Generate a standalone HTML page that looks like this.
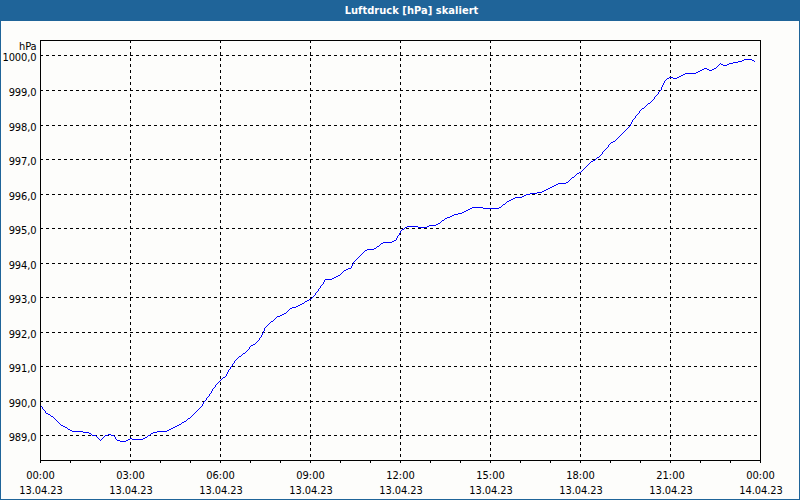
<!DOCTYPE html><html><head><meta charset="utf-8"><title>Luftdruck [hPa] skaliert</title><style>
html,body{margin:0;padding:0;width:800px;height:500px;overflow:hidden;background:#fdfdfb;}
svg{display:block;position:absolute;left:0;top:0;}
text{font-family:"DejaVu Sans Condensed","Liberation Sans",sans-serif;font-size:11px;fill:#000;}
.t{font-weight:bold;fill:#fff;letter-spacing:0.04px;}
.yl text{letter-spacing:-0.1px;}
.dl{letter-spacing:-0.1px;}
</style></head><body>
<svg width="800" height="500" viewBox="0 0 800 500">
<rect x="0" y="0" width="800" height="500" fill="#1f6499"/>
<rect x="1" y="21" width="798" height="478" fill="#fdfdfb"/>
<text class="t" x="411.5" y="14" text-anchor="middle">Luftdruck [hPa] skaliert</text>
<g stroke="#000" stroke-width="1" shape-rendering="crispEdges" fill="none">
<line x1="40" y1="55.5" x2="760" y2="55.5" stroke-dasharray="3 3"/>
<line x1="40" y1="90.5" x2="760" y2="90.5" stroke-dasharray="3 3"/>
<line x1="40" y1="125.5" x2="760" y2="125.5" stroke-dasharray="3 3"/>
<line x1="40" y1="159.5" x2="760" y2="159.5" stroke-dasharray="3 3"/>
<line x1="40" y1="194.5" x2="760" y2="194.5" stroke-dasharray="3 3"/>
<line x1="40" y1="228.5" x2="760" y2="228.5" stroke-dasharray="3 3"/>
<line x1="40" y1="263.5" x2="760" y2="263.5" stroke-dasharray="3 3"/>
<line x1="40" y1="297.5" x2="760" y2="297.5" stroke-dasharray="3 3"/>
<line x1="40" y1="332.5" x2="760" y2="332.5" stroke-dasharray="3 3"/>
<line x1="40" y1="366.5" x2="760" y2="366.5" stroke-dasharray="3 3"/>
<line x1="40" y1="401.5" x2="760" y2="401.5" stroke-dasharray="3 3"/>
<line x1="40" y1="435.5" x2="760" y2="435.5" stroke-dasharray="3 3"/>
<line x1="130.5" y1="40" x2="130.5" y2="460" stroke-dasharray="3 3"/>
<line x1="220.5" y1="40" x2="220.5" y2="460" stroke-dasharray="3 3"/>
<line x1="310.5" y1="40" x2="310.5" y2="460" stroke-dasharray="3 3"/>
<line x1="400.5" y1="40" x2="400.5" y2="460" stroke-dasharray="3 3"/>
<line x1="490.5" y1="40" x2="490.5" y2="460" stroke-dasharray="3 3"/>
<line x1="580.5" y1="40" x2="580.5" y2="460" stroke-dasharray="3 3"/>
<line x1="670.5" y1="40" x2="670.5" y2="460" stroke-dasharray="3 3"/>
<rect x="40.5" y="40.5" width="720" height="420"/>
<line x1="40.5" y1="460" x2="40.5" y2="463"/>
<line x1="70.5" y1="460" x2="70.5" y2="463"/>
<line x1="100.5" y1="460" x2="100.5" y2="463"/>
<line x1="130.5" y1="460" x2="130.5" y2="463"/>
<line x1="160.5" y1="460" x2="160.5" y2="463"/>
<line x1="190.5" y1="460" x2="190.5" y2="463"/>
<line x1="220.5" y1="460" x2="220.5" y2="463"/>
<line x1="250.5" y1="460" x2="250.5" y2="463"/>
<line x1="280.5" y1="460" x2="280.5" y2="463"/>
<line x1="310.5" y1="460" x2="310.5" y2="463"/>
<line x1="340.5" y1="460" x2="340.5" y2="463"/>
<line x1="370.5" y1="460" x2="370.5" y2="463"/>
<line x1="400.5" y1="460" x2="400.5" y2="463"/>
<line x1="430.5" y1="460" x2="430.5" y2="463"/>
<line x1="460.5" y1="460" x2="460.5" y2="463"/>
<line x1="490.5" y1="460" x2="490.5" y2="463"/>
<line x1="520.5" y1="460" x2="520.5" y2="463"/>
<line x1="550.5" y1="460" x2="550.5" y2="463"/>
<line x1="580.5" y1="460" x2="580.5" y2="463"/>
<line x1="610.5" y1="460" x2="610.5" y2="463"/>
<line x1="640.5" y1="460" x2="640.5" y2="463"/>
<line x1="670.5" y1="460" x2="670.5" y2="463"/>
<line x1="700.5" y1="460" x2="700.5" y2="463"/>
<line x1="730.5" y1="460" x2="730.5" y2="463"/>
<line x1="760.5" y1="460" x2="760.5" y2="463"/>
</g>
<g text-anchor="end" class="yl">
<text x="36.5" y="50">hPa</text>
<text x="36.5" y="61">1000,0</text>
<text x="36.5" y="96">999,0</text>
<text x="36.5" y="131">998,0</text>
<text x="36.5" y="165">997,0</text>
<text x="36.5" y="200">996,0</text>
<text x="36.5" y="234">995,0</text>
<text x="36.5" y="269">994,0</text>
<text x="36.5" y="303">993,0</text>
<text x="36.5" y="338">992,0</text>
<text x="36.5" y="372">991,0</text>
<text x="36.5" y="407">990,0</text>
<text x="36.5" y="441">989,0</text>
</g><g text-anchor="middle">
<text x="40.5" y="479">00:00</text>
<text class="dl" x="41.0" y="494">13.04.23</text>
<text x="130.5" y="479">03:00</text>
<text class="dl" x="131.0" y="494">13.04.23</text>
<text x="220.5" y="479">06:00</text>
<text class="dl" x="221.0" y="494">13.04.23</text>
<text x="310.5" y="479">09:00</text>
<text class="dl" x="311.0" y="494">13.04.23</text>
<text x="400.5" y="479">12:00</text>
<text class="dl" x="401.0" y="494">13.04.23</text>
<text x="490.5" y="479">15:00</text>
<text class="dl" x="491.0" y="494">13.04.23</text>
<text x="580.5" y="479">18:00</text>
<text class="dl" x="581.0" y="494">13.04.23</text>
<text x="670.5" y="479">21:00</text>
<text class="dl" x="671.0" y="494">13.04.23</text>
<text x="760.5" y="479">00:00</text>
<text class="dl" x="761.0" y="494">14.04.23</text>
</g>
<path fill="#0000ff" shape-rendering="crispEdges" d="M744 59h8v1h-8zM742 60h2v1h-2zM752 60h2v1h-2zM738 61h4v1h-4zM754 61h1v1h-1zM733 62h5v1h-5zM720 63h1v1h-1zM729 63h4v1h-4zM719 64h1v1h-1zM721 64h2v1h-2zM727 64h2v1h-2zM718 65h1v1h-1zM723 65h4v1h-4zM717 66h1v1h-1zM716 67h1v1h-1zM704 68h3v1h-3zM714 68h2v1h-2zM702 69h2v1h-2zM707 69h2v1h-2zM712 69h2v1h-2zM700 70h2v1h-2zM709 70h3v1h-3zM698 71h2v1h-2zM696 72h2v1h-2zM685 73h11v1h-11zM683 74h2v1h-2zM681 75h2v1h-2zM679 76h2v1h-2zM669 77h4v1h-4zM677 77h2v1h-2zM667 78h2v1h-2zM673 78h4v1h-4zM666 79h1v1h-1zM665 80h1v1h-1zM664 81h1v1h-1zM664 82h1v1h-1zM663 83h1v1h-1zM663 84h1v1h-1zM662 85h1v1h-1zM662 86h1v1h-1zM661 87h1v1h-1zM661 88h1v1h-1zM661 89h1v1h-1zM660 90h1v1h-1zM659 91h1v1h-1zM658 92h1v1h-1zM658 93h1v1h-1zM657 94h1v1h-1zM656 95h1v1h-1zM655 96h1v1h-1zM654 97h1v1h-1zM654 98h1v1h-1zM653 99h1v1h-1zM652 100h1v1h-1zM651 101h1v1h-1zM650 102h1v1h-1zM648 103h2v1h-2zM647 104h1v1h-1zM646 105h1v1h-1zM645 106h1v1h-1zM644 107h1v1h-1zM642 108h2v1h-2zM641 109h1v1h-1zM640 110h1v1h-1zM639 111h1v1h-1zM639 112h1v1h-1zM638 113h1v1h-1zM637 114h1v1h-1zM636 115h1v1h-1zM635 116h1v1h-1zM635 117h1v1h-1zM634 118h1v1h-1zM633 119h1v1h-1zM632 120h1v1h-1zM632 121h1v1h-1zM631 122h1v1h-1zM631 123h1v1h-1zM630 124h1v1h-1zM630 125h1v1h-1zM629 126h1v1h-1zM628 127h1v1h-1zM627 128h1v1h-1zM626 129h1v1h-1zM625 130h1v1h-1zM624 131h1v1h-1zM623 132h1v1h-1zM622 133h1v1h-1zM621 134h1v1h-1zM620 135h1v1h-1zM619 136h1v1h-1zM618 137h1v1h-1zM617 138h1v1h-1zM616 139h1v1h-1zM615 140h1v1h-1zM613 141h2v1h-2zM611 142h2v1h-2zM610 143h1v1h-1zM609 144h1v1h-1zM608 145h1v1h-1zM608 146h1v1h-1zM607 147h1v1h-1zM606 148h1v1h-1zM605 149h1v1h-1zM604 150h1v1h-1zM603 151h1v1h-1zM602 152h1v1h-1zM602 153h1v1h-1zM601 154h1v1h-1zM600 155h1v1h-1zM599 156h1v1h-1zM597 157h2v1h-2zM596 158h1v1h-1zM595 159h1v1h-1zM593 160h2v1h-2zM591 161h2v1h-2zM590 162h1v1h-1zM589 163h1v1h-1zM588 164h1v1h-1zM587 165h1v1h-1zM586 166h1v1h-1zM585 167h1v1h-1zM584 168h1v1h-1zM583 169h1v1h-1zM582 170h1v1h-1zM581 171h1v1h-1zM579 172h2v1h-2zM577 173h2v1h-2zM576 174h1v1h-1zM575 175h1v1h-1zM574 176h1v1h-1zM572 177h2v1h-2zM571 178h1v1h-1zM570 179h1v1h-1zM569 180h1v1h-1zM568 181h1v1h-1zM566 182h2v1h-2zM558 183h8v1h-8zM556 184h2v1h-2zM554 185h2v1h-2zM552 186h2v1h-2zM550 187h2v1h-2zM548 188h2v1h-2zM546 189h2v1h-2zM544 190h2v1h-2zM542 191h2v1h-2zM537 192h5v1h-5zM530 193h7v1h-7zM526 194h4v1h-4zM524 195h2v1h-2zM522 196h2v1h-2zM515 197h7v1h-7zM513 198h2v1h-2zM511 199h2v1h-2zM509 200h2v1h-2zM507 201h2v1h-2zM506 202h1v1h-1zM505 203h1v1h-1zM503 204h2v1h-2zM502 205h1v1h-1zM501 206h1v1h-1zM472 207h11v1h-11zM499 207h2v1h-2zM470 208h2v1h-2zM483 208h16v1h-16zM468 209h2v1h-2zM466 210h2v1h-2zM464 211h2v1h-2zM462 212h2v1h-2zM458 213h4v1h-4zM454 214h4v1h-4zM452 215h2v1h-2zM450 216h2v1h-2zM447 217h3v1h-3zM445 218h2v1h-2zM444 219h1v1h-1zM442 220h2v1h-2zM441 221h1v1h-1zM440 222h1v1h-1zM438 223h2v1h-2zM436 224h2v1h-2zM429 225h7v1h-7zM407 226h11v1h-11zM427 226h2v1h-2zM405 227h2v1h-2zM418 227h9v1h-9zM404 228h1v1h-1zM402 229h2v1h-2zM401 230h1v1h-1zM400 231h1v1h-1zM400 232h1v1h-1zM399 233h1v1h-1zM399 234h1v1h-1zM398 235h1v1h-1zM397 236h1v1h-1zM397 237h1v1h-1zM396 238h1v1h-1zM396 239h1v1h-1zM394 240h2v1h-2zM392 241h2v1h-2zM383 242h9v1h-9zM381 243h2v1h-2zM380 244h1v1h-1zM379 245h1v1h-1zM377 246h2v1h-2zM376 247h1v1h-1zM374 248h2v1h-2zM367 249h7v1h-7zM365 250h2v1h-2zM364 251h1v1h-1zM363 252h1v1h-1zM362 253h1v1h-1zM361 254h1v1h-1zM360 255h1v1h-1zM359 256h1v1h-1zM358 257h1v1h-1zM357 258h1v1h-1zM356 259h1v1h-1zM355 260h1v1h-1zM354 261h1v1h-1zM353 262h1v1h-1zM353 263h1v1h-1zM352 264h1v1h-1zM352 265h1v1h-1zM351 266h1v1h-1zM351 267h1v1h-1zM348 268h3v1h-3zM346 269h2v1h-2zM344 270h2v1h-2zM343 271h1v1h-1zM342 272h1v1h-1zM341 273h1v1h-1zM340 274h1v1h-1zM338 275h2v1h-2zM336 276h2v1h-2zM334 277h2v1h-2zM332 278h2v1h-2zM325 279h7v1h-7zM324 280h1v1h-1zM324 281h1v1h-1zM323 282h1v1h-1zM323 283h1v1h-1zM322 284h1v1h-1zM321 285h1v1h-1zM320 286h1v1h-1zM320 287h1v1h-1zM319 288h1v1h-1zM318 289h1v1h-1zM318 290h1v1h-1zM317 291h1v1h-1zM316 292h1v1h-1zM315 293h1v1h-1zM315 294h1v1h-1zM314 295h1v1h-1zM313 296h1v1h-1zM312 297h1v1h-1zM311 298h1v1h-1zM309 299h2v1h-2zM307 300h2v1h-2zM305 301h2v1h-2zM304 302h1v1h-1zM302 303h2v1h-2zM300 304h2v1h-2zM298 305h2v1h-2zM296 306h2v1h-2zM292 307h4v1h-4zM290 308h2v1h-2zM289 309h1v1h-1zM288 310h1v1h-1zM287 311h1v1h-1zM286 312h1v1h-1zM284 313h2v1h-2zM282 314h2v1h-2zM280 315h2v1h-2zM277 316h3v1h-3zM276 317h1v1h-1zM275 318h1v1h-1zM274 319h1v1h-1zM273 320h1v1h-1zM271 321h2v1h-2zM270 322h1v1h-1zM269 323h1v1h-1zM268 324h1v1h-1zM267 325h1v1h-1zM266 326h1v1h-1zM265 327h1v1h-1zM264 328h1v1h-1zM264 329h1v1h-1zM264 330h1v1h-1zM263 331h1v1h-1zM263 332h1v1h-1zM262 333h1v1h-1zM262 334h1v1h-1zM261 335h1v1h-1zM261 336h1v1h-1zM260 337h1v1h-1zM259 338h1v1h-1zM259 339h1v1h-1zM258 340h1v1h-1zM257 341h1v1h-1zM256 342h1v1h-1zM255 343h1v1h-1zM253 344h2v1h-2zM251 345h2v1h-2zM250 346h1v1h-1zM249 347h1v1h-1zM249 348h1v1h-1zM248 349h1v1h-1zM247 350h1v1h-1zM246 351h1v1h-1zM245 352h1v1h-1zM243 353h2v1h-2zM242 354h1v1h-1zM241 355h1v1h-1zM239 356h2v1h-2zM238 357h1v1h-1zM237 358h1v1h-1zM236 359h1v1h-1zM235 360h1v1h-1zM234 361h1v1h-1zM234 362h1v1h-1zM233 363h1v1h-1zM232 364h1v1h-1zM232 365h1v1h-1zM231 366h1v1h-1zM230 367h1v1h-1zM230 368h1v1h-1zM229 369h1v1h-1zM228 370h1v1h-1zM228 371h1v1h-1zM227 372h1v1h-1zM227 373h1v1h-1zM226 374h1v1h-1zM226 375h1v1h-1zM225 376h1v1h-1zM223 377h2v1h-2zM222 378h1v1h-1zM221 379h1v1h-1zM220 380h1v1h-1zM219 381h1v1h-1zM218 382h1v1h-1zM217 383h1v1h-1zM216 384h1v1h-1zM215 385h1v1h-1zM215 386h1v1h-1zM214 387h1v1h-1zM213 388h1v1h-1zM212 389h1v1h-1zM212 390h1v1h-1zM211 391h1v1h-1zM211 392h1v1h-1zM210 393h1v1h-1zM209 394h1v1h-1zM209 395h1v1h-1zM208 396h1v1h-1zM207 397h1v1h-1zM206 398h1v1h-1zM206 399h1v1h-1zM205 400h1v1h-1zM204 401h1v1h-1zM203 402h1v1h-1zM203 403h1v1h-1zM202 404h1v1h-1zM202 405h1v1h-1zM41 406h1v1h-1zM201 406h1v1h-1zM42 407h1v1h-1zM200 407h1v1h-1zM42 408h1v1h-1zM199 408h1v1h-1zM43 409h1v1h-1zM198 409h1v1h-1zM44 410h1v1h-1zM197 410h1v1h-1zM45 411h1v1h-1zM196 411h1v1h-1zM45 412h1v1h-1zM195 412h1v1h-1zM46 413h2v1h-2zM194 413h1v1h-1zM48 414h2v1h-2zM193 414h1v1h-1zM50 415h1v1h-1zM192 415h1v1h-1zM51 416h2v1h-2zM191 416h1v1h-1zM53 417h1v1h-1zM190 417h1v1h-1zM54 418h1v1h-1zM188 418h2v1h-2zM55 419h1v1h-1zM187 419h1v1h-1zM56 420h1v1h-1zM186 420h1v1h-1zM57 421h1v1h-1zM184 421h2v1h-2zM58 422h1v1h-1zM182 422h2v1h-2zM59 423h1v1h-1zM181 423h1v1h-1zM60 424h1v1h-1zM179 424h2v1h-2zM61 425h2v1h-2zM177 425h2v1h-2zM63 426h2v1h-2zM175 426h2v1h-2zM65 427h2v1h-2zM173 427h2v1h-2zM67 428h1v1h-1zM171 428h2v1h-2zM68 429h2v1h-2zM169 429h2v1h-2zM70 430h2v1h-2zM167 430h2v1h-2zM72 431h11v1h-11zM157 431h10v1h-10zM83 432h6v1h-6zM153 432h4v1h-4zM89 433h2v1h-2zM151 433h2v1h-2zM91 434h1v1h-1zM108 434h3v1h-3zM150 434h1v1h-1zM92 435h4v1h-4zM105 435h3v1h-3zM111 435h3v1h-3zM148 435h2v1h-2zM96 436h1v1h-1zM104 436h1v1h-1zM114 436h1v1h-1zM147 436h1v1h-1zM97 437h1v1h-1zM103 437h1v1h-1zM115 437h1v1h-1zM145 437h2v1h-2zM98 438h1v1h-1zM102 438h1v1h-1zM115 438h1v1h-1zM130 438h2v1h-2zM143 438h2v1h-2zM99 439h1v1h-1zM101 439h1v1h-1zM116 439h1v1h-1zM128 439h2v1h-2zM132 439h11v1h-11zM100 440h1v1h-1zM117 440h3v1h-3zM126 440h2v1h-2zM120 441h6v1h-6z"/>
</svg></body></html>
